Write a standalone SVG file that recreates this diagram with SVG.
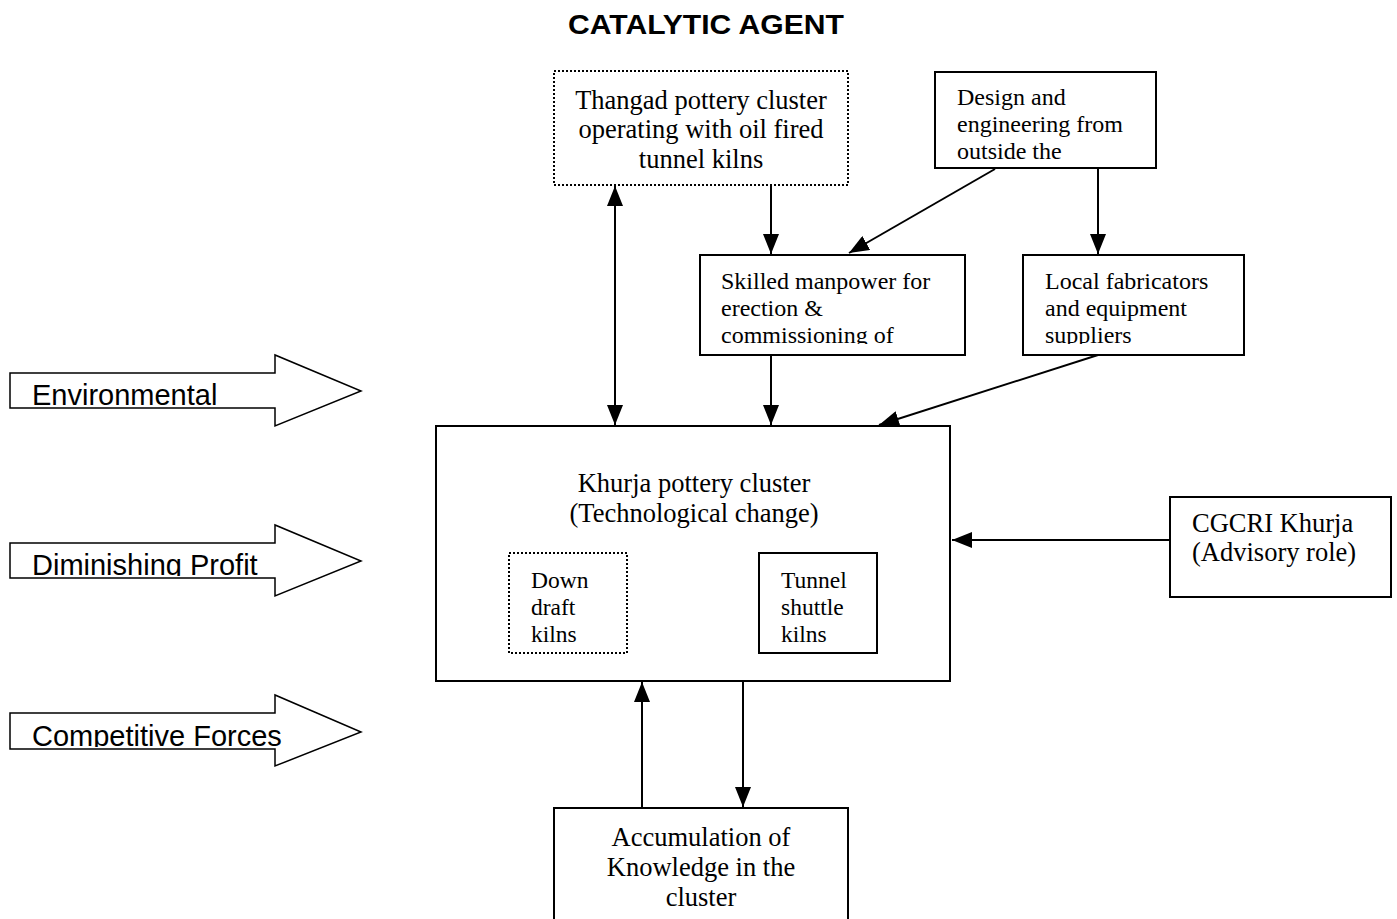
<svg xmlns="http://www.w3.org/2000/svg" width="1397" height="919" viewBox="0 0 1397 919">
<style>
.box{fill:#fff;stroke:#000;stroke-width:2}
.dot{fill:#fff;stroke:#000;stroke-width:2;stroke-dasharray:2 2}
.t{font-family:"Liberation Serif",serif;font-size:26.5px;fill:#000}
.s{font-family:"Liberation Serif",serif;font-size:24px;fill:#000}
.k{font-family:"Liberation Serif",serif;font-size:23.5px;fill:#000}
.a{font-family:"Liberation Sans",sans-serif;font-size:29px;fill:#000}
.c{stroke:#000;stroke-width:2;fill:none}
.blk{fill:#fff;stroke:#000;stroke-width:1.5}
</style>
<defs>
<marker id="ah" viewBox="0 0 20 16" refX="20" refY="8" markerWidth="20" markerHeight="16" markerUnits="userSpaceOnUse" orient="auto-start-reverse">
<path d="M0,0 L20,8 L0,16 Z" fill="#000"/>
</marker>
<clipPath id="cp1"><rect x="11" y="374" width="330" height="32"/></clipPath>
<clipPath id="cp2"><rect x="11" y="544" width="330" height="32"/></clipPath>
<clipPath id="cp3"><rect x="11" y="714" width="330" height="33"/></clipPath>
<clipPath id="cpS"><rect x="701" y="256" width="263" height="88"/></clipPath>
<clipPath id="cpL"><rect x="1024" y="256" width="219" height="88"/></clipPath>
<clipPath id="cpD"><rect x="936" y="73" width="219" height="94"/></clipPath>
</defs>

<text x="706" y="34" text-anchor="middle" textLength="276" lengthAdjust="spacingAndGlyphs" style="font-family:'Liberation Sans',sans-serif;font-size:27px;font-weight:bold">CATALYTIC AGENT</text>

<g id="environmental">
<path class="blk" d="M10,373 L275,373 L275,355 L361,391 L275,426 L275,408 L10,408 Z"/>
<text class="a" x="32" y="405" clip-path="url(#cp1)">Environmental</text>
</g>
<g id="diminishing">
<path class="blk" d="M10,543 L275,543 L275,525 L361,561 L275,596 L275,578 L10,578 Z"/>
<text class="a" x="32" y="575" clip-path="url(#cp2)">Diminishing Profit</text>
</g>
<g id="competitive">
<path class="blk" d="M10,713 L275,713 L275,695 L361,732 L275,766 L275,749 L10,749 Z"/>
<text class="a" x="32" y="746" clip-path="url(#cp3)">Competitive Forces</text>
</g>

<g id="connectors">
<line class="c" x1="615" y1="186" x2="615" y2="425" marker-start="url(#ah)" marker-end="url(#ah)"/>
<line class="c" x1="771" y1="185" x2="771" y2="254" marker-end="url(#ah)"/>
<line class="c" x1="995" y1="169" x2="849" y2="253" marker-end="url(#ah)"/>
<line class="c" x1="1098" y1="168" x2="1098" y2="254" marker-end="url(#ah)"/>
<line class="c" x1="771" y1="355" x2="771" y2="425" marker-end="url(#ah)"/>
<line class="c" x1="1098" y1="355" x2="879" y2="425" marker-end="url(#ah)"/>
<line class="c" x1="627" y1="597" x2="758" y2="597" marker-end="url(#ah)"/>
<line class="c" x1="1170" y1="540" x2="952" y2="540" marker-end="url(#ah)"/>
<line class="c" x1="743" y1="681" x2="743" y2="807" marker-end="url(#ah)"/>
<line class="c" x1="642" y1="808" x2="642" y2="682" marker-end="url(#ah)"/>
</g>

<g id="thangad">
<rect class="dot" x="554" y="71" width="294" height="114"/>
<text class="t" text-anchor="middle"><tspan x="701" y="109">Thangad pottery cluster</tspan><tspan x="701" y="138">operating with oil fired</tspan><tspan x="701" y="168">tunnel kilns</tspan></text>
</g>

<g id="design">
<rect class="box" x="935" y="72" width="221" height="96"/>
<text class="s" clip-path="url(#cpD)"><tspan x="957" y="105">Design and</tspan><tspan x="957" y="132">engineering from</tspan><tspan x="957" y="159">outside the</tspan></text>
</g>

<g id="skilled">
<rect class="box" x="700" y="255" width="265" height="100"/>
<text class="s" clip-path="url(#cpS)"><tspan x="721" y="289">Skilled manpower for</tspan><tspan x="721" y="316">erection &amp;</tspan><tspan x="721" y="343">commissioning of</tspan></text>
</g>

<g id="local">
<rect class="box" x="1023" y="255" width="221" height="100"/>
<text class="s" clip-path="url(#cpL)"><tspan x="1045" y="289">Local fabricators</tspan><tspan x="1045" y="316">and equipment</tspan><tspan x="1045" y="343">suppliers</tspan></text>
</g>

<g id="khurja">
<rect class="box" x="436" y="426" width="514" height="255"/>
<text class="t" text-anchor="middle"><tspan x="694" y="492">Khurja pottery cluster</tspan><tspan x="694" y="522">(Technological change)</tspan></text>
</g>

<g id="downdraft">
<rect class="dot" x="509" y="553" width="118" height="100"/>
<text class="k"><tspan x="531" y="588">Down</tspan><tspan x="531" y="615">draft</tspan><tspan x="531" y="642">kilns</tspan></text>
</g>

<g id="tunnel">
<rect class="box" x="759" y="553" width="118" height="100"/>
<text class="k"><tspan x="781" y="588">Tunnel</tspan><tspan x="781" y="615">shuttle</tspan><tspan x="781" y="642">kilns</tspan></text>
</g>

<g id="cgcri">
<rect class="box" x="1170" y="497" width="221" height="100"/>
<text class="t"><tspan x="1192" y="532">CGCRI Khurja</tspan><tspan x="1192" y="561">(Advisory role)</tspan></text>
</g>

<g id="accumulation">
<rect class="box" x="554" y="808" width="294" height="130"/>
<text class="t" text-anchor="middle"><tspan x="701" y="846">Accumulation of</tspan><tspan x="701" y="876">Knowledge in the</tspan><tspan x="701" y="906">cluster</tspan></text>
</g>
</svg>
